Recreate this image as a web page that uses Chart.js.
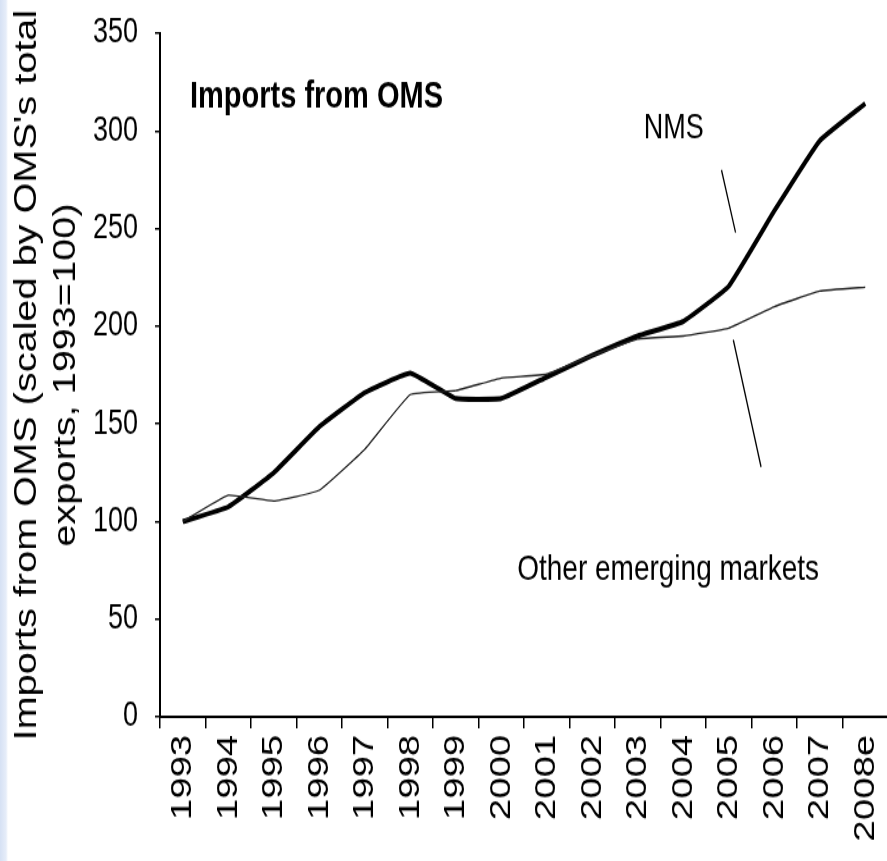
<!DOCTYPE html>
<html>
<head>
<meta charset="utf-8">
<script src="https://cdn.jsdelivr.net/npm/chart.js@4"></script>
<style>
  html, body { margin: 0; padding: 0; overflow: hidden; }
  body { width: 887px; height: 861px; background: linear-gradient(to right, #d6e1f4 0, #e6edf9 6px, #fff 8px); }
  /* the source picture was stretched vertically, so the whole chart is too */
  #wrap { position: absolute; left: 0; top: 0; width: 890px; height: 673px; transform: scaleY(1.28); transform-origin: 0 0; }
</style>
</head>
<body>
<div id="wrap"><canvas id="line-chart"></canvas></div>
<script>
const years = ['1993', '1994', '1995', '1996', '1997', '1998', '1999', '2000', '2001', '2002', '2003', '2004', '2005', '2006', '2007', '2008e'];
const nms = [100, 107.5, 125, 148.5, 166, 176, 163, 163, 174, 185, 195, 202.5, 220.5, 259, 295, 314];
const otherEmerging = [100, 113.5, 110.5, 116, 137, 165, 167, 173.5, 175.5, 185, 193.5, 195, 199, 210, 218, 220];
const yTicks = [0, 50, 100, 150, 200, 250, 300, 350];

const FONT = "'Liberation Sans', Arial, sans-serif";

// text and leader lines placed in data units (category index, value)
const labels = [
    { text: 'Imports from OMS', x: 0.16, y: 317, bold: true, size: 29 },
    { text: 'NMS', x: 10.13, y: 301, size: 27 },
    { text: 'Other emerging markets', x: 7.35, y: 75, size: 28 }
];
const leaders = [
    [11.84, 280, 12.15, 248],
    [12.10, 193, 12.71, 128]
];

const notesPlugin = {
    id: 'notes',
    afterDatasetsDraw(chart) {
        const c = chart.ctx;
        const xs = chart.scales.x, ys = chart.scales.y;
        c.save();
        c.fillStyle = '#000';
        c.textBaseline = 'middle';
        c.textAlign = 'left';
        labels.forEach(l => {
            c.font = (l.bold ? 'bold ' : '') + l.size + 'px ' + FONT;
            c.fillText(l.text, xs.getPixelForValue(l.x), ys.getPixelForValue(l.y));
        });
        c.strokeStyle = '#000';
        c.lineWidth = 1.3;
        leaders.forEach(p => {
            c.beginPath();
            c.moveTo(xs.getPixelForValue(p[0]), ys.getPixelForValue(p[1]));
            c.lineTo(xs.getPixelForValue(p[2]), ys.getPixelForValue(p[3]));
            c.stroke();
        });
        c.restore();
    }
};

const ctx = document.getElementById('line-chart');

new Chart(ctx, {
    type: 'line',
    plugins: [notesPlugin],
    data: {
        labels: years,
        datasets: [{
            label: 'Other emerging markets',
            data: otherEmerging,
            borderColor: '#222',
            borderWidth: 1.3,
            tension: 0.1,
            pointRadius: 0
        },
        {
            label: 'NMS',
            data: nms,
            borderColor: '#000',
            borderWidth: 4,
            tension: 0.1,
            pointRadius: 0
        }]
    },
    options: {
        responsive: true,
        maintainAspectRatio: false,
        animation: false,
        layout: { padding: { top: 26, left: 0, right: 0, bottom: 0 } },
        plugins: {
            legend: { display: false },
            tooltip: { enabled: false }
        },
        scales: {
            x: {
                offset: true,
                border: { color: '#000', width: 2 },
                grid: { offset: true, drawOnChartArea: false, color: '#000', lineWidth: 1.5, tickLength: 9 },
                ticks: { color: '#000', font: { family: FONT, size: 30 }, minRotation: 90, maxRotation: 90, autoSkip: false, padding: 5 },
                afterFit(s) {
                    s.height = 113;
                    s.paddingLeft = 0;
                    s.paddingRight = 0;
                }
            },
            y: {
                min: 0,
                max: 350,
                border: { color: '#000', width: 2 },
                grid: { drawOnChartArea: false, color: '#000', lineWidth: 1.5, tickLength: 5 },
                afterBuildTicks(s) {
                    s.ticks = yTicks.map(v => ({ value: v }));
                },
                ticks: { color: '#000', font: { family: FONT, size: 27 }, padding: 17 },
                title: {
                    display: true,
                    text: ["Imports from OMS (scaled by OMS's total", 'exports, 1993=100)'],
                    color: '#000',
                    font: { family: FONT, size: 31, lineHeight: 1.26 },
                    padding: { top: 8, bottom: 0 }
                },
                afterFit(s) {
                    s.width = 160;
                    s.paddingTop = 0;
                    s.paddingBottom = 0;
                }
            }
        }
    }
});
</script>
</body>
</html>
